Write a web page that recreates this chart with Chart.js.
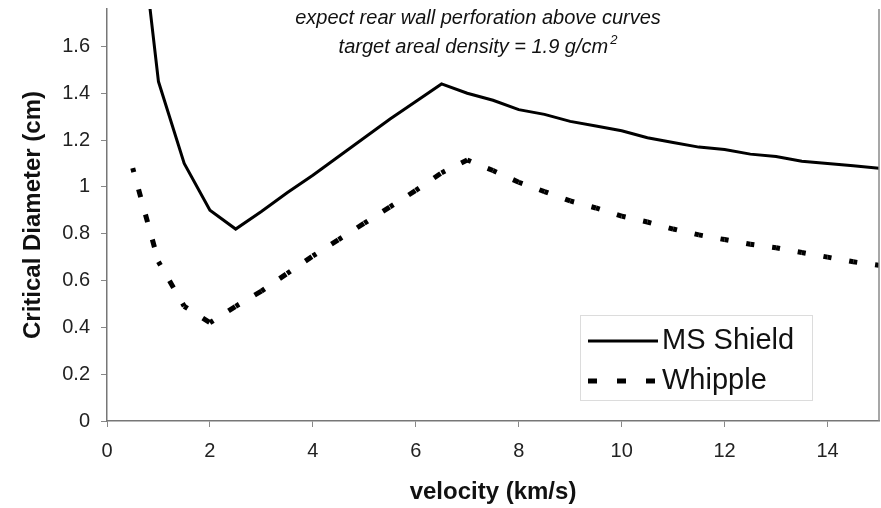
<!DOCTYPE html>
<html>
<head>
<meta charset="utf-8">
<script src="https://cdn.jsdelivr.net/npm/chart.js@4/dist/chart.umd.min.js"></script>
<style>
    html, body { margin: 0; padding: 0; background: #fff; }
    #wrap { width: 881px; height: 508px; }
</style>
</head>
<body>
<div id="wrap"><canvas id="chart" width="881" height="508"></canvas></div>
<script>
// velocity (km/s)
const velocity = [0.5, 1, 1.5, 2, 2.5, 3, 3.5, 4, 4.5, 5, 5.5, 6, 6.5, 7, 7.5,
                  8, 8.5, 9, 9.5, 10, 10.5, 11, 11.5, 12, 12.5, 13, 13.5, 14, 14.5, 15];

// critical diameter (cm)
const msShield = [2.4, 1.45, 1.10, 0.90, 0.82, 0.895, 0.975, 1.05, 1.13, 1.21, 1.29, 1.365, 1.44, 1.40, 1.37,
                  1.33, 1.31, 1.28, 1.26, 1.24, 1.21, 1.19, 1.17, 1.16, 1.14, 1.13, 1.11, 1.10, 1.09, 1.08];
const whipple  = [1.08, 0.68, 0.49, 0.42, 0.49, 0.555, 0.63, 0.705, 0.775, 0.845, 0.915, 0.985, 1.06, 1.115, 1.07,
                  1.02, 0.98, 0.94, 0.91, 0.875, 0.85, 0.82, 0.795, 0.775, 0.755, 0.74, 0.72, 0.70, 0.68, 0.665];

const seriesNames = ['MS Shield', 'Whipple'];
const xTicks = [0, 2, 4, 6, 8, 10, 12, 14];
const yTicks = [0, 0.2, 0.4, 0.6, 0.8, 1, 1.2, 1.4, 1.6];
const noteLines = ['expect rear wall perforation above curves', 'target areal density = 1.9 g/cm'];

const FONT = "'Liberation Sans', Arial, Helvetica, sans-serif";

function toPoints(ys)
{
    return velocity.map((v, i) => ({ x: v, y: ys[i] }));
}

// Text note at the top and the boxed legend, drawn over the plot
const overlayPlugin =
{
    id: 'overlay',
    afterDraw(chart)
    {
        const ctx = chart.ctx;
        const area = chart.chartArea;
        ctx.save();

        // right frame line
        ctx.strokeStyle = '#8a8a8a';
        ctx.lineWidth = 1.5;
        ctx.beginPath();
        ctx.moveTo(area.right, area.top);
        ctx.lineTo(area.right, area.bottom);
        ctx.stroke();

        // note
        const cx = (area.left + area.right) / 2 - 15;
        ctx.fillStyle = '#111';
        ctx.textBaseline = 'middle';
        ctx.font = 'italic 20px ' + FONT;
        ctx.textAlign = 'center';
        ctx.fillText(noteLines[0], cx, 18);

        ctx.textAlign = 'left';
        const w1 = ctx.measureText(noteLines[1]).width;
        ctx.font = 'italic 13px ' + FONT;
        const w2 = ctx.measureText('2').width;
        const x0 = cx - (w1 + w2 + 2) / 2;
        ctx.font = 'italic 20px ' + FONT;
        ctx.fillText(noteLines[1], x0, 47);
        ctx.font = 'italic 13px ' + FONT;
        ctx.fillText('2', x0 + w1 + 2, 40);

        // legend
        const box = { x: 580, y: 315, w: 232, h: 85 };
        ctx.fillStyle = '#fff';
        ctx.fillRect(box.x, box.y, box.w, box.h);
        ctx.strokeStyle = '#dcdcdc';
        ctx.lineWidth = 1;
        ctx.strokeRect(box.x + 0.5, box.y + 0.5, box.w, box.h);

        const rows = [341, 381];
        chart.data.datasets.forEach((ds, i) =>
        {
            const y = rows[i];
            ctx.strokeStyle = ds.borderColor;
            ctx.lineWidth = ds.borderWidth;
            ctx.lineCap = 'butt';
            ctx.setLineDash(i === 0 ? [] : [9, 20]);
            ctx.beginPath();
            ctx.moveTo(588, y);
            ctx.lineTo(658, y);
            ctx.stroke();
            ctx.setLineDash([]);

            ctx.fillStyle = '#111';
            ctx.font = '29px ' + FONT;
            ctx.textAlign = 'left';
            ctx.textBaseline = 'middle';
            ctx.fillText(ds.label, 662, y);
        });

        ctx.restore();
    }
};

const myChart = new Chart(
    document.getElementById('chart'),
    {
        type: 'scatter',

        data:
        {
            datasets:
            [
                {
                    label: seriesNames[0],
                    data: toPoints(msShield),
                    showLine: true,
                    borderColor: '#000',
                    borderWidth: 3,
                    pointRadius: 0,
                    tension: 0
                },
                {
                    label: seriesNames[1],
                    data: toPoints(whipple),
                    showLine: true,
                    borderColor: '#000',
                    borderWidth: 5,
                    borderCapStyle: 'butt',
                    borderDash: [8, 18],
                    pointRadius: 0,
                    tension: 0,
                    // restart the dash on every segment so a dash sits on each data point
                    segment:
                    {
                        borderDashOffset: ctx => (ctx.p0DataIndex % 2 ? 4 : 4.0001)
                    }
                }
            ]
        },

        options:
        {
            responsive: false,
            animation: false,

            layout:
            {
                padding: { top: 9, right: 2, left: 0, bottom: 0 }
            },

            plugins:
            {
                legend: { display: false },
                title: { display: false },
                tooltip: { enabled: false }
            },

            scales:
            {
                x:
                {
                    type: 'linear',
                    min: 0,
                    max: 15,
                    afterBuildTicks: s => { s.ticks = xTicks.map(v => ({ value: v })); },
                    afterFit: s => { s.height = 87; s.paddingLeft = 0; s.paddingRight = 0; },
                    grid: { drawOnChartArea: false, drawTicks: true, tickLength: 6, color: '#888' },
                    border: { color: '#777', width: 1.5 },
                    ticks:
                    {
                        autoSkip: false,
                        maxRotation: 0,
                        padding: 12,
                        color: '#222',
                        font: { family: FONT, size: 20 },
                        callback: v => String(v)
                    },
                    title:
                    {
                        display: true,
                        text: 'velocity (km/s)',
                        color: '#111',
                        font: { family: FONT, size: 24, weight: 'bold' },
                        padding: { top: 0, bottom: 1 }
                    }
                },

                y:
                {
                    min: 0,
                    max: 1.76,
                    afterBuildTicks: s => { s.ticks = yTicks.map(v => ({ value: v })); },
                    afterFit: s => { s.width = 107; s.paddingTop = 0; s.paddingBottom = 0; },
                    grid: { drawOnChartArea: false, drawTicks: true, tickLength: 6, color: '#888' },
                    border: { color: '#777', width: 1.5 },
                    ticks:
                    {
                        padding: 11,
                        color: '#222',
                        font: { family: FONT, size: 20 },
                        callback: v => String(v)
                    },
                    title:
                    {
                        display: true,
                        text: 'Critical Diameter (cm)',
                        color: '#111',
                        font: { family: FONT, size: 24, weight: 'bold' },
                        padding: { top: 19, bottom: 0 }
                    }
                }
            }
        },

        plugins: [overlayPlugin]
    }
);
</script>
</body>
</html>
